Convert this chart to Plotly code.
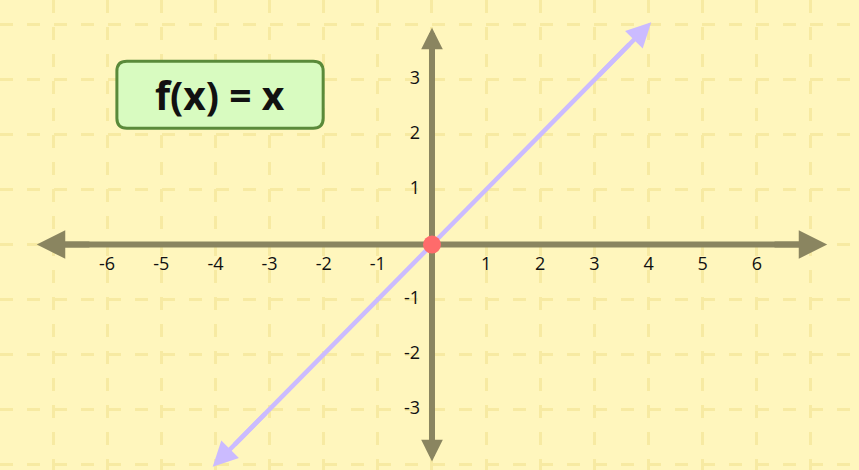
import plotly.graph_objects as go

# ---- data ----
x_tick_values = [-6, -5, -4, -3, -2, -1, 1, 2, 3, 4, 5, 6]
x_tick_labels = ["-6", "-5", "-4", "-3", "-2", "-1", "1", "2", "3", "4", "5", "6"]
y_tick_values = [-3, -2, -1, 1, 2, 3]
y_tick_labels = ["-3", "-2", "-1", "1", "2", "3"]
line_x = [-4.05, 4.05]          # f(x) = x drawn between these x values
line_y = [-4.05, 4.05]
point_x = [0]
point_y = [0]
title_text = "f(x) = x"

# ---- styles ----
BG = "#fff6bd"
GRID = "#f7eaa2"
AXIS = "#8a8560"
LAVENDER = "#cbbbff"
DOT = "#ff6b6b"
TEXT = "#111111"
FONT = "Open Sans, Noto Sans, sans-serif"

X_RANGE = [-7.979, 7.887]
Y_RANGE = [-4.107, 4.454]
AX_X = 7.3
AX_Y = 3.95

fig = go.Figure()

# axes lines
fig.add_trace(go.Scatter(x=[-AX_X + 0.3, AX_X - 0.3], y=[0, 0], mode="lines",
                         line=dict(color=AXIS, width=6), hoverinfo="skip", showlegend=False))
fig.add_trace(go.Scatter(x=[0, 0], y=[-AX_Y + 0.3, AX_Y - 0.3], mode="lines",
                         line=dict(color=AXIS, width=6), hoverinfo="skip", showlegend=False))

# f(x) = x line
fig.add_trace(go.Scatter(x=[line_x[0] * 0.9, line_x[1] * 0.9], y=[line_y[0] * 0.9, line_y[1] * 0.9],
                         mode="lines", line=dict(color=LAVENDER, width=4.5),
                         hoverinfo="skip", showlegend=False))

# origin point
fig.add_trace(go.Scatter(x=point_x, y=point_y, mode="markers",
                         marker=dict(color=DOT, size=18, line=dict(width=0)),
                         hoverinfo="skip", showlegend=False))

# tick labels
fig.add_trace(go.Scatter(x=x_tick_values, y=[-0.38] * len(x_tick_values), mode="text",
                         text=x_tick_labels, textposition="middle center",
                         textfont=dict(family=FONT, size=18, color=TEXT),
                         hoverinfo="skip", showlegend=False))
fig.add_trace(go.Scatter(x=[-0.22] * len(y_tick_values), y=y_tick_values, mode="text",
                         text=y_tick_labels, textposition="middle left",
                         textfont=dict(family=FONT, size=18, color=TEXT),
                         hoverinfo="skip", showlegend=False))

annotations = []


def arrow(x, y, ax, ay, color, width, head, size):
    annotations.append(dict(x=x, y=y, ax=ax, ay=ay, xref="x", yref="y", axref="x", ayref="y",
                            text="", showarrow=True, arrowhead=head, arrowsize=size,
                            arrowwidth=width, arrowcolor=color, standoff=0))


# axis arrowheads
arrow(AX_X, 0, AX_X - 1, 0, AXIS, 6, 2, 0.95)
arrow(-AX_X, 0, -AX_X + 1, 0, AXIS, 6, 2, 0.95)
arrow(0, AX_Y, 0, AX_Y - 1, AXIS, 6, 2, 0.72)
arrow(0, -AX_Y, 0, -AX_Y + 1, AXIS, 6, 2, 0.72)
# line arrowheads
arrow(line_x[1], line_y[1], line_x[1] - 1, line_y[1] - 1, LAVENDER, 4.5, 2, 1.1)
arrow(line_x[0], line_y[0], line_x[0] + 1, line_y[0] + 1, LAVENDER, 4.5, 2, 1.1)

# title label
bx0, bx1, by0, by1 = -5.82, -2.01, 2.12, 3.34
rx, ry = 0.185, 0.182
path = (f"M{bx0+rx},{by0} L{bx1-rx},{by0} Q{bx1},{by0} {bx1},{by0+ry} "
        f"L{bx1},{by1-ry} Q{bx1},{by1} {bx1-rx},{by1} L{bx0+rx},{by1} "
        f"Q{bx0},{by1} {bx0},{by1-ry} L{bx0},{by0+ry} Q{bx0},{by0} {bx0+rx},{by0} Z")
shapes = [dict(type="path", path=path, xref="x", yref="y",
               fillcolor="#d8fbc0", line=dict(color="#5a8a3a", width=3), layer="above")]
annotations.append(dict(x=(bx0 + bx1) / 2, y=(by0 + by1) / 2 + 0.01, xref="x", yref="y",
                        text=f"<b>{title_text}</b>", showarrow=False,
                        font=dict(family=FONT, size=39, color=TEXT),
                        xanchor="center", yanchor="middle"))

fig.update_layout(
    width=859, height=470,
    margin=dict(l=0, r=0, t=0, b=0),
    paper_bgcolor=BG, plot_bgcolor=BG,
    showlegend=False,
    shapes=shapes, annotations=annotations,
    xaxis=dict(range=X_RANGE, showgrid=True, gridcolor=GRID, gridwidth=3,
               griddash="13px,14px", dtick=1, tick0=0, zeroline=False,
               showticklabels=False, showline=False, ticks="", fixedrange=True),
    yaxis=dict(range=Y_RANGE, showgrid=True, gridcolor=GRID, gridwidth=3,
               griddash="13px,14px", dtick=1, tick0=0, zeroline=False,
               showticklabels=False, showline=False, ticks="", fixedrange=True),
)

fig.write_html("out.html", config={"displayModeBar": False, "staticPlot": True},
               post_script="document.body.style.margin='0';document.body.style.overflow='hidden';document.body.style.background='" + BG + "';")
